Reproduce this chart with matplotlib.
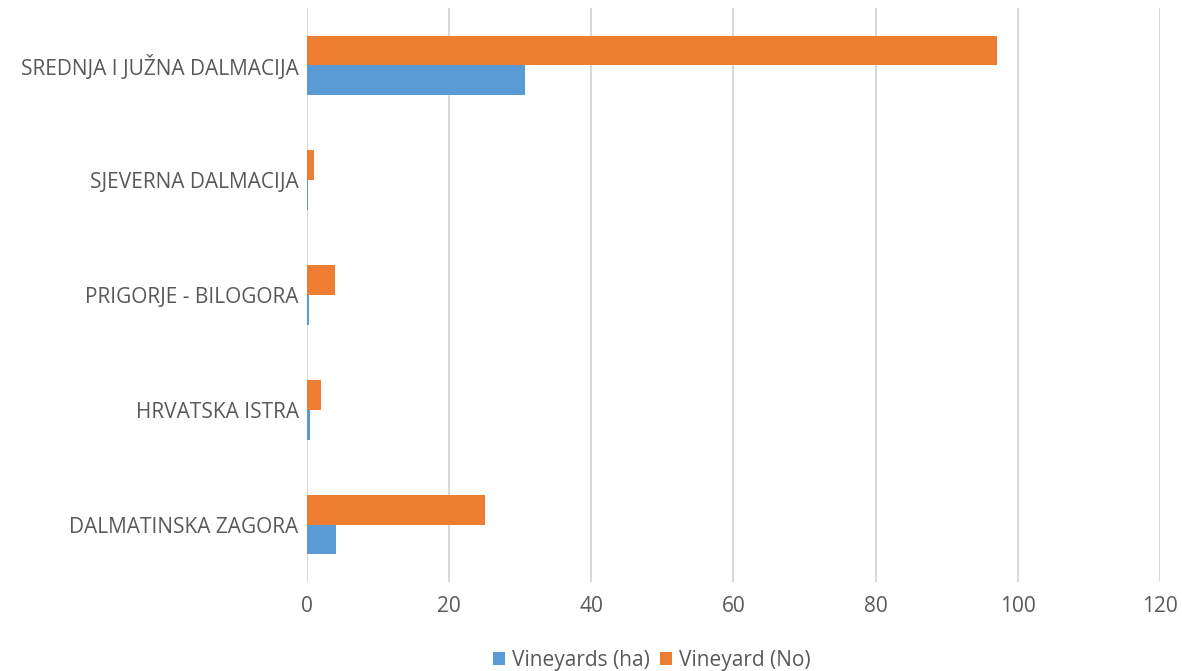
import matplotlib.pyplot as plt
import numpy as np

# Regions, bottom to top as drawn
regions = ["DALMATINSKA ZAGORA", "HRVATSKA ISTRA", "PRIGORJE - BILOGORA",
           "SJEVERNA DALMACIJA", "SREDNJA I JUŽNA DALMACIJA"]
vineyards_ha = [4.1, 0.4, 0.3, 0.1, 30.7]
vineyards_no = [25, 2, 4, 1, 97]
x_ticks = [0, 20, 40, 60, 80, 100, 120]

blue = "#5b9bd5"
orange = "#ed7d31"
grey = "#595959"

plt.rcParams["font.family"] = ["Open Sans", "DejaVu Sans"]

fig = plt.figure(figsize=(11.82, 6.71), dpi=100)
ax = fig.add_axes([0.2597, 0.1326, 0.7217, 0.8554])

y = np.arange(len(regions))
h = 0.26
ax.barh(y - h / 2, vineyards_ha, height=h, color=blue, label="Vineyards (ha)", zorder=3)
ax.barh(y + h / 2, vineyards_no, height=h, color=orange, label="Vineyard (No)", zorder=3)

ax.set_xlim(0, 120)
ax.set_ylim(-0.5, len(regions) - 0.5)
ax.set_xticks(x_ticks)
ax.set_yticks(y)
ax.set_yticklabels(regions)
ax.tick_params(axis="both", length=0, labelsize=15, colors=grey)
ax.tick_params(axis="x", pad=10)
ax.tick_params(axis="y", pad=6)

ax.grid(axis="x", color="#d9d9d9", linewidth=1.5, zorder=0)
for s in ax.spines.values():
    s.set_visible(False)

ax.legend(loc="center", bbox_to_anchor=(0.404, -0.136), ncol=2, frameon=False,
          fontsize=15, labelcolor=grey, handlelength=0.6, handleheight=0.6,
          handletextpad=0.3, columnspacing=0.5)

fig.savefig("out.png", dpi=100)
